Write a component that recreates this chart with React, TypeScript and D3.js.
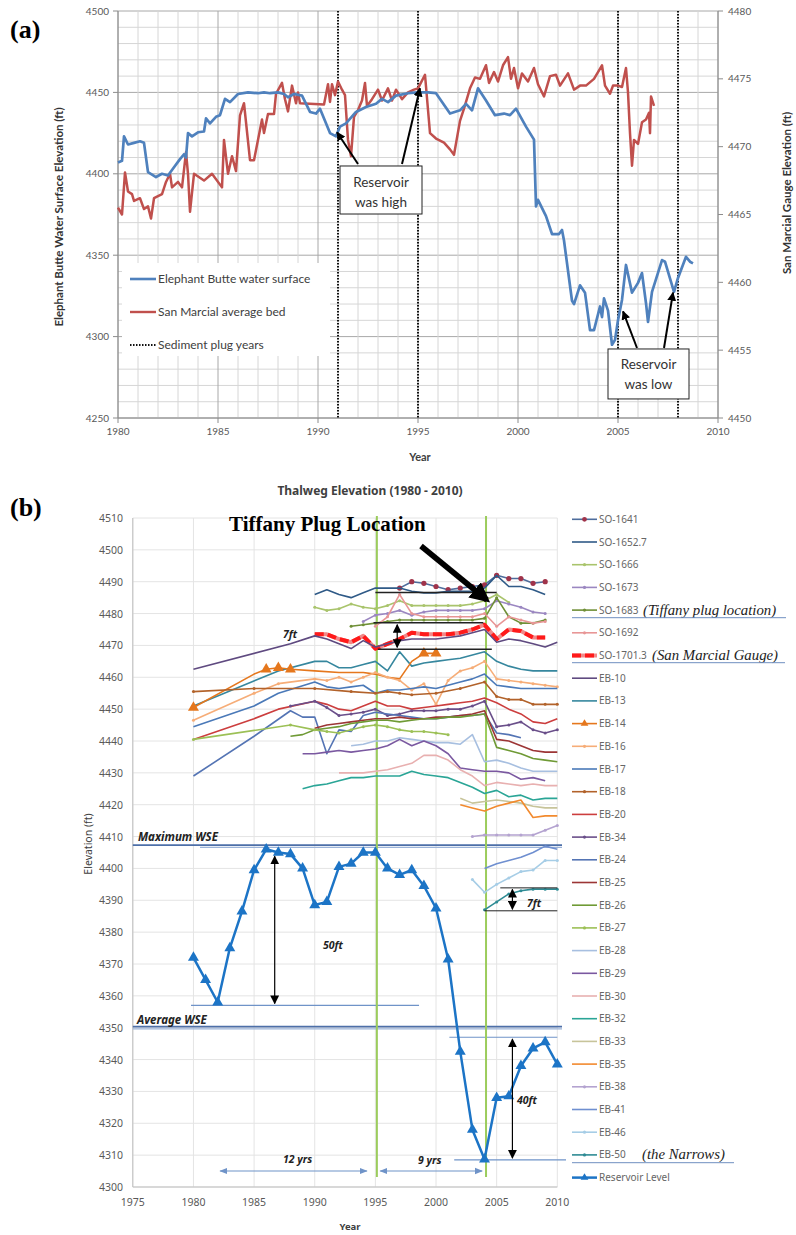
import React from 'react';
import * as d3 from 'd3';

type P = [number, number];

// ---------- Panel (a) data ----------
const elephantButte: P[] = [[1980.0,4407],[1980.2,4408],[1980.3,4423],[1980.5,4418],[1980.8,4419],[1981.1,4420],[1981.3,4419],[1981.5,4401],[1981.9,4398],[1982.2,4400],[1982.5,4399],[1982.8,4404],[1983.1,4409],[1983.3,4412],[1983.4,4410],[1983.5,4425],[1983.7,4423],[1984.0,4425.5],[1984.3,4426],[1984.4,4434],[1984.6,4431],[1984.9,4435],[1985.1,4436],[1985.35,4446],[1985.6,4444],[1986.0,4449],[1986.5,4450],[1987.0,4449.5],[1987.3,4450],[1987.6,4449.5],[1988.0,4450],[1988.3,4449],[1988.5,4447],[1988.8,4449],[1989.2,4448],[1989.6,4438],[1989.9,4437],[1990.1,4440],[1990.6,4425],[1990.9,4423],[1991.1,4429],[1991.4,4431],[1991.9,4438],[1992.4,4441],[1992.9,4443],[1993.2,4446],[1993.5,4444],[1993.9,4448],[1994.5,4449.5],[1995.0,4450],[1995.5,4450],[1995.9,4449.5],[1996.6,4437],[1997.1,4439],[1997.4,4443],[1997.7,4439],[1998.0,4452.5],[1998.4,4445],[1998.85,4436],[1999.3,4437],[1999.6,4436],[1999.9,4440],[2000.4,4429],[2000.8,4421],[2000.9,4380],[2001.0,4384],[2001.4,4374],[2001.7,4363],[2002.05,4363],[2002.2,4365.5],[2002.3,4359],[2002.7,4322],[2002.8,4320],[2003.1,4331.5],[2003.35,4327],[2003.6,4304],[2003.8,4304],[2004.1,4318.5],[2004.2,4312],[2004.3,4323.5],[2004.5,4316],[2004.7,4295],[2004.85,4298],[2005.0,4310],[2005.2,4322.5],[2005.4,4344],[2005.7,4327],[2006.0,4333],[2006.2,4339],[2006.4,4320.5],[2006.5,4309],[2006.7,4327.5],[2007.2,4347],[2007.35,4346],[2007.8,4327.5],[2008.0,4336],[2008.4,4349],[2008.6,4346],[2008.75,4345]];

const sanMarcial: P[] = [[1980.0,4465.5],[1980.2,4465.0],[1980.35,4468.1],[1980.5,4466.7],[1980.7,4466.5],[1980.8,4466],[1981.1,4466.2],[1981.3,4465.4],[1981.5,4465.6],[1981.65,4464.7],[1981.8,4466.2],[1982.2,4466.5],[1982.4,4467.4],[1982.6,4468],[1982.7,4467],[1983.0,4467.4],[1983.2,4467],[1983.4,4469.6],[1983.5,4468],[1983.6,4465.2],[1983.8,4468],[1984.3,4467.5],[1984.7,4468],[1985.2,4467],[1985.3,4470.5],[1985.5,4468],[1985.7,4469.3],[1985.9,4468.2],[1986.1,4472.3],[1986.3,4473.2],[1986.6,4469],[1986.8,4469],[1987.2,4472],[1987.3,4471],[1987.5,4472.4],[1987.8,4472.4],[1987.9,4473.9],[1988.2,4474.7],[1988.35,4473.5],[1988.5,4472.6],[1988.7,4474.5],[1988.9,4473.2],[1989.0,4474],[1989.1,4473.2],[1990.3,4473.1],[1990.5,4474.6],[1990.6,4473.3],[1990.7,4474.6],[1990.85,4473.8],[1991.0,4474.8],[1991.2,4474.2],[1991.35,4473.8],[1991.5,4470.5],[1991.65,4469.3],[1991.8,4472.2],[1992.0,4472.7],[1992.2,4473.4],[1992.35,4474.7],[1992.45,4473],[1992.7,4473.5],[1993.0,4474.2],[1993.2,4473.4],[1993.5,4474.3],[1993.7,4473.4],[1993.9,4474.2],[1994.2,4473.5],[1994.5,4474],[1994.8,4474.2],[1995.0,4474.3],[1995.35,4475.3],[1995.6,4471],[1995.9,4470.6],[1996.3,4470.3],[1996.6,4469.8],[1996.8,4469.4],[1997.1,4471.9],[1997.3,4472.8],[1997.6,4474.3],[1997.85,4475.1],[1998.1,4475],[1998.4,4476],[1998.55,4474.7],[1998.8,4475.5],[1999.0,4474.8],[1999.25,4476],[1999.5,4476.6],[1999.65,4475],[1999.8,4475.8],[2000.0,4474.3],[2000.2,4475.4],[2000.5,4474.8],[2000.8,4475.8],[2001.0,4474.6],[2001.3,4473.7],[2001.6,4475.2],[2001.9,4475.3],[2002.1,4474.5],[2002.5,4475.4],[2002.8,4474.2],[2003.1,4474.5],[2003.4,4474.5],[2003.8,4475],[2004.2,4476],[2004.35,4474.5],[2004.6,4473.9],[2004.75,4474.5],[2005.0,4474.5],[2005.2,4474.4],[2005.4,4475.8],[2005.5,4474],[2005.6,4471],[2005.7,4468.6],[2005.8,4470.5],[2006.0,4470.2],[2006.2,4471.8],[2006.4,4472],[2006.55,4472.5],[2006.6,4471],[2006.65,4473.7],[2006.8,4473]];

const plugYears = [1991, 1995, 2005, 2008];
const aLeftTicks = [4250, 4300, 4350, 4400, 4450, 4500];
const aRightTicks = [4450, 4455, 4460, 4465, 4470, 4475, 4480];
const aYearTicks = [1980, 1985, 1990, 1995, 2000, 2005, 2010];

// ---------- Panel (b) data ----------
const so1641: P[] = [[1997,4488],[1998,4490],[1999,4489.5],[2000,4488.5],[2001,4487.5],[2002,4488],[2003,4488.5],[2004,4489],[2005,4492],[2006,4491],[2007,4491],[2008,4489.5],[2009,4490]];
const so1652: P[] = [[1990,4486],[1991,4487.5],[1992,4486],[1993,4485],[1994,4486.5],[1995,4488],[1996,4488],[1997,4488],[1998,4487],[1999,4486.5],[2000,4486.5],[2001,4487],[2002,4487],[2003,4487],[2004,4488],[2005,4492],[2006,4488.5],[2007,4488.5],[2008,4487.5],[2009,4486]];
const so1666: P[] = [[1990,4482],[1991,4481],[1992,4481.5],[1993,4483],[1994,4482],[1995,4481.5],[1996,4482.5],[1997,4484],[1998,4482.5],[1999,4482.5],[2000,4482.5],[2001,4482.5],[2002,4482.5],[2003,4483],[2004,4484],[2005,4486],[2006,4483.5]];
const so1673: P[] = [[1994,4477.5],[1995,4479.5],[1996,4480],[1997,4481],[1998,4479.5],[1999,4480.5],[2000,4481],[2001,4481],[2002,4481],[2003,4481],[2004,4481.5],[2005,4484],[2006,4483],[2007,4482],[2008,4480.5],[2009,4480]];
const so1683: P[] = [[1993,4476],[1994,4476.5],[1995,4477],[1996,4477.5],[1997,4478],[1998,4478],[1999,4478],[2000,4478],[2001,4478],[2002,4478],[2003,4478],[2004,4478.5],[2005,4485],[2006,4479],[2007,4477],[2008,4477],[2009,4478]];
const so1692: P[] = [[1995,4476],[1996,4479],[1997,4486],[1998,4480],[1999,4479],[2000,4479],[2001,4479],[2002,4479],[2003,4479],[2004,4480],[2005,4476],[2006,4479],[2007,4478],[2008,4477],[2009,4477.5]];
const so1701: P[] = [[1990,4473.5],[1991,4473.5],[1992,4472],[1993,4471],[1994,4473],[1995,4469],[1996,4470.5],[1997,4472],[1998,4474],[1999,4473.5],[2000,4473.5],[2001,4473.5],[2002,4474],[2003,4475],[2004,4476.5],[2005,4472],[2006,4475],[2007,4474.5],[2008,4472.5],[2009,4472.5]];
const eb10: P[] = [[1980,4462.5],[1988,4470.5],[1990,4473],[1991,4472],[1992,4470.5],[1993,4469],[1994,4471.5],[1995,4469.5],[1996,4470.5],[1997,4471.5],[1998,4472],[1999,4472],[2000,4472],[2001,4472.5],[2002,4473],[2003,4474],[2004,4475],[2005,4471],[2006,4472],[2007,4471.5],[2008,4470.5],[2009,4469.5],[2010,4471]];
const eb13: P[] = [[1980,4451],[1987,4462],[1990,4465],[1991,4465],[1992,4463],[1993,4463],[1994,4464],[1995,4465],[1996,4462],[1997,4468],[1998,4463.5],[1999,4464.5],[2000,4465],[2001,4465.5],[2002,4466],[2003,4467],[2004,4468],[2005,4465],[2006,4463.5],[2007,4462.5],[2008,4462],[2009,4462],[2010,4462]];
const eb14: P[] = [[1980,4450.5],[1985,4461],[1986,4462.5],[1987,4463],[1988,4462.5],[1990,4462],[1992,4461.5],[1994,4461.5],[1995,4461],[1996,4460],[1997,4459.5],[1998,4465],[1999,4467.5],[2000,4467.5]];
const eb14Marked = [1980, 1986, 1987, 1988, 1999, 2000];
const eb16: P[] = [[1980,4446.5],[1985,4455],[1987,4458],[1990,4459.5],[1991,4459],[1992,4460],[1993,4458.5],[1994,4460],[1995,4461.5],[1996,4460],[1997,4459],[1998,4456],[1999,4458],[2000,4451.5],[2001,4459],[2002,4462],[2003,4463],[2004,4465],[2005,4459.5],[2006,4459],[2007,4458.5],[2008,4458],[2009,4457.5],[2010,4457]];
const eb17: P[] = [[1980,4444.5],[1985,4451],[1987,4455],[1990,4458.5],[1991,4457],[1992,4456.5],[1993,4457],[1994,4457.5],[1995,4455],[1996,4456],[1997,4456],[1998,4456.5],[1999,4457],[2000,4456.5],[2001,4457.5],[2002,4458.5],[2003,4459.5],[2004,4461],[2005,4457.5],[2006,4457],[2007,4456.5],[2008,4456.5],[2009,4456.5],[2010,4456.5]];
const eb18: P[] = [[1980,4455.5],[1985,4456.5],[1990,4456.5],[1993,4455.5],[1995,4455],[1996,4455.5],[1997,4455],[1998,4454.5],[2000,4455],[2002,4456.5],[2004,4458.5],[2005,4454],[2006,4453],[2007,4453],[2008,4451.5],[2009,4451.5],[2010,4451.5]];
const eb20: P[] = [[1980,4440.5],[1985,4447],[1987,4450],[1990,4452.5],[1991,4451.5],[1992,4450],[1993,4449.5],[1994,4451],[1995,4452.5],[1996,4451],[1997,4451],[1998,4450],[1999,4450.5],[2000,4451],[2001,4451.5],[2002,4452],[2003,4452.5],[2004,4453.5],[2005,4452],[2006,4450],[2007,4448.5],[2008,4446],[2009,4445.5],[2010,4447]];
const eb34: P[] = [[1988,4451],[1990,4452.5],[1991,4450.5],[1992,4448],[1993,4448.5],[1994,4449],[1995,4450],[1996,4448],[1997,4448.5],[1998,4449.5],[1999,4449.5],[2000,4449.5],[2001,4450],[2002,4450],[2003,4451],[2004,4452.5],[2005,4444.5],[2006,4445],[2007,4446],[2008,4443.5],[2009,4442.5],[2010,4443.5]];
const eb24: P[] = [[1980,4429],[1985,4441.5],[1988,4449.5],[1989,4447.5],[1990,4447.5],[1991,4436],[1992,4443.5],[1993,4443],[1994,4448],[1995,4449],[1996,4448.5],[1997,4448],[1998,4447.5],[1999,4447],[2000,4447],[2001,4447.5],[2002,4448],[2003,4448],[2004,4448.5],[2005,4442.5],[2006,4442],[2007,4441]];
const eb25: P[] = [[1990,4444],[1991,4445],[1992,4445.5],[1993,4446],[1994,4446.5],[1995,4447],[1996,4447],[1997,4447.5],[1998,4447],[1999,4447],[2000,4447.5],[2001,4447.5],[2002,4448],[2003,4448.5],[2004,4449.5],[2005,4440.5],[2006,4440],[2007,4438.5],[2008,4437],[2009,4436.5],[2010,4436.5]];
const eb26: P[] = [[1988,4441.5],[1989,4442],[1990,4443.5],[1991,4444],[1992,4444.5],[1993,4445.5],[1994,4446],[1995,4446.5],[1996,4446.5],[1997,4446],[1998,4446.5],[1999,4447],[2000,4447],[2001,4447.5],[2002,4447.5],[2003,4448],[2004,4448.5],[2005,4438],[2006,4437],[2007,4436],[2008,4434.5],[2009,4434],[2010,4433.5]];
const eb27: P[] = [[1980,4440.5],[1988,4445],[1990,4443.5],[1991,4443],[1992,4442.5],[1993,4443.5],[1994,4444.5],[1995,4445],[1996,4444.5],[1997,4443.5],[1998,4443],[1999,4443],[2000,4442.5],[2001,4442]];
const eb28: P[] = [[1993,4438.5],[1994,4439],[1995,4440],[1996,4440],[1997,4441],[1998,4440.5],[1999,4440],[2000,4439.5],[2001,4439.5],[2002,4439],[2003,4442],[2004,4433.5],[2005,4434],[2006,4433],[2007,4431.5],[2008,4430.5],[2009,4430.5],[2010,4430.5]];
const eb29: P[] = [[1989,4436],[1990,4436],[1991,4436.5],[1992,4437],[1993,4436.5],[1994,4437],[1995,4437.5],[1996,4438.5],[1997,4440.5],[1998,4438.5],[1999,4440],[2000,4438.5],[2001,4436],[2002,4431.5],[2003,4431],[2004,4430.5],[2005,4430.5],[2006,4430],[2007,4428],[2008,4428.5],[2009,4427.5]];
const eb30: P[] = [[1992,4430],[1993,4430],[1994,4430],[1995,4430.5],[1996,4431],[1997,4432],[1998,4433],[1999,4435.5],[2000,4435.5],[2001,4434],[2002,4431],[2003,4429],[2004,4426],[2005,4427],[2006,4426.5],[2007,4426],[2008,4426.5],[2009,4426],[2010,4426]];
const eb32: P[] = [[1989,4425],[1990,4426],[1991,4426.5],[1992,4427.5],[1993,4428.5],[1994,4428.5],[1995,4429],[1996,4429],[1997,4429],[1998,4430.5],[1999,4429.5],[2000,4429],[2001,4428.5],[2002,4427],[2003,4425.5],[2004,4423.5],[2005,4424.5],[2006,4422.5],[2007,4423],[2008,4421.5],[2009,4422],[2010,4422]];
const eb33: P[] = [[2002,4422],[2003,4420.5],[2004,4421],[2005,4421.5],[2006,4421],[2007,4420.5],[2008,4419.5],[2009,4419],[2010,4419]];
const eb35: P[] = [[2002,4420],[2003,4419],[2004,4418],[2005,4419.5],[2006,4420.5],[2007,4421.5],[2008,4416],[2009,4416.5],[2010,4416.5]];
const eb38: P[] = [[2003,4410],[2004,4410.5],[2005,4410.5],[2006,4410.5],[2007,4410.5],[2008,4410.5],[2009,4412],[2010,4413.5]];
const eb41: P[] = [[2004,4400],[2005,4401.5],[2006,4402.5],[2007,4403.5],[2008,4405],[2009,4407],[2010,4406]];
const eb46: P[] = [[2003,4396.5],[2004,4392.5],[2005,4395],[2006,4397],[2007,4399],[2008,4399.5],[2009,4402.5],[2010,4402.5]];
const eb50: P[] = [[2004,4387],[2005,4389.5],[2006,4392],[2007,4393],[2008,4393.5],[2009,4393.5],[2010,4393.5]];
const reservoirLevel: P[] = [[1980,4372],[1981,4365],[1982,4358],[1983,4375],[1984,4386.5],[1985,4399.5],[1986,4406],[1987,4405],[1988,4404.5],[1989,4400],[1990,4388.5],[1991,4389.5],[1992,4400.5],[1993,4401.5],[1994,4405],[1995,4405],[1996,4400],[1997,4398],[1998,4399.5],[1999,4394.5],[2000,4387.5],[2001,4371.5],[2002,4342.5],[2003,4318],[2004,4308.7],[2005,4328],[2006,4328.5],[2007,4338],[2008,4343.5],[2009,4345.5],[2010,4338.5]];

const bYTicks = d3.range(4300, 4511, 10);
const bXTicks = [1975, 1980, 1985, 1990, 1995, 2000, 2005, 2010];
const plugLinesB = [1995, 2004];
const maxWSE = 4407;
const avgWSE = 4350;

type S = { name: string; data: P[]; color: string; w?: number; mk?: string; mkColor?: string; note?: string; noteX?: number };
const seriesB: S[] = [
  { name: 'SO-1641', data: so1641, color: '#4e6d9c', mk: 'dot', mkColor: '#a0334a' },
  { name: 'SO-1652.7', data: so1652, color: '#2f5a87' },
  { name: 'SO-1666', data: so1666, color: '#a9c46c', mk: 'small' },
  { name: 'SO-1673', data: so1673, color: '#9b87c1', mk: 'small' },
  { name: 'SO-1683', data: so1683, color: '#6f8f36', mk: 'small', note: '(Tiffany plug location)', noteX: 643 },
  { name: 'SO-1692', data: so1692, color: '#e89696', mk: 'small' },
  { name: 'SO-1701.3', data: so1701, color: '#ff1a1a', w: 4, mk: 'dash', note: '(San Marcial Gauge)', noteX: 652 },
  { name: 'EB-10', data: eb10, color: '#5f4a80' },
  { name: 'EB-13', data: eb13, color: '#36879e' },
  { name: 'EB-14', data: eb14, color: '#e5771d', mk: 'tri' },
  { name: 'EB-16', data: eb16, color: '#f6ad78', mk: 'small' },
  { name: 'EB-17', data: eb17, color: '#4a79b8' },
  { name: 'EB-18', data: eb18, color: '#b2622a', mk: 'small' },
  { name: 'EB-20', data: eb20, color: '#cc3e3e' },
  { name: 'EB-34', data: eb34, color: '#6a4f8a', mk: 'small' },
  { name: 'EB-24', data: eb24, color: '#5474b4' },
  { name: 'EB-25', data: eb25, color: '#9c3535' },
  { name: 'EB-26', data: eb26, color: '#6f9a35' },
  { name: 'EB-27', data: eb27, color: '#9cc056', mk: 'small' },
  { name: 'EB-28', data: eb28, color: '#a7bfe0' },
  { name: 'EB-29', data: eb29, color: '#7a58a0' },
  { name: 'EB-30', data: eb30, color: '#e8b0b0' },
  { name: 'EB-32', data: eb32, color: '#2aa596' },
  { name: 'EB-33', data: eb33, color: '#c7c49a' },
  { name: 'EB-35', data: eb35, color: '#f28a2e' },
  { name: 'EB-38', data: eb38, color: '#b4a3d0', mk: 'small' },
  { name: 'EB-41', data: eb41, color: '#6f8fd0' },
  { name: 'EB-46', data: eb46, color: '#a6cde6', mk: 'small' },
  { name: 'EB-50', data: eb50, color: '#2e8b94', mk: 'small', note: '(the Narrows)', noteX: 642 },
  { name: 'Reservoir Level', data: reservoirLevel, color: '#1c74c6', w: 2.5, mk: 'bigtri' },
];

// ---------- scales ----------
const xA = d3.scaleLinear().domain([1980, 2010]).range([118, 718]);
const yAL = d3.scaleLinear().domain([4250, 4500]).range([418, 11]);
const yAR = d3.scaleLinear().domain([4450, 4480]).range([418, 11]);
const xB = d3.scaleLinear().domain([1975, 2010]).range([132.8, 557.3]);
const yB = d3.scaleLinear().domain([4300, 4510]).range([1187, 518]);

const lineAL = d3.line<P>().x(d => xA(d[0])).y(d => yAL(d[1]));
const lineAR = d3.line<P>().x(d => xA(d[0])).y(d => yAR(d[1]));
const lineB = d3.line<P>().x(d => xB(d[0])).y(d => yB(d[1]));
const triPath = d3.symbol().type(d3.symbolTriangle).size(52)()!;
const triSmall = d3.symbol().type(d3.symbolTriangle).size(26)()!;

const calibri = 'Lato, "Open Sans", sans-serif';
const malgun = '"Noto Sans", "DejaVu Sans", sans-serif';
const times = '"Liberation Serif", "DejaVu Serif", serif';

export default function App() {
  const legRow0 = 519.3, legStep = 22.7;
  return (
    <svg width={796} height={1235} style={{ position: 'absolute', left: 0, top: 0, background: '#fff' }}
      xmlns="http://www.w3.org/2000/svg">
      <defs>
        <marker id="ah" viewBox="0 0 10 10" refX="9" refY="5" markerWidth="9" markerHeight="9" markerUnits="userSpaceOnUse" orient="auto-start-reverse">
          <path d="M0,0 L10,5 L0,10 z" fill="#000" />
        </marker>
        <marker id="ahBig" viewBox="0 0 10 10" refX="8" refY="5" markerWidth="20" markerHeight="20" markerUnits="userSpaceOnUse" orient="auto">
          <path d="M0,0 L10,5 L0,10 z" fill="#000" />
        </marker>
        <marker id="ahBlue" viewBox="0 0 10 10" refX="9" refY="5" markerWidth="8" markerHeight="8" markerUnits="userSpaceOnUse" orient="auto-start-reverse">
          <path d="M0,1 L10,5 L0,9 z" fill="#6f93c8" />
        </marker>
      </defs>

      {/* ================= Panel (a) ================= */}
      <text x={10} y={38} fontFamily={times} fontWeight="bold" fontSize={26} fill="#000">(a)</text>
      <g>
        {d3.range(4250, 4501, 10).map(v => (
          <line key={'ha' + v} x1={118} x2={718} y1={yAL(v)} y2={yAL(v)} stroke={v % 50 === 0 ? '#a8a8a8' : '#d6d6d6'} strokeWidth={1} />
        ))}
        {d3.range(1980, 2011, 1).map(v => (
          <line key={'va' + v} x1={xA(v)} x2={xA(v)} y1={11} y2={418} stroke={v % 5 === 0 ? '#a8a8a8' : '#d6d6d6'} strokeWidth={1} />
        ))}
        <line x1={118} x2={118} y1={11} y2={418} stroke="#8c8c8c" />
        <line x1={718} x2={718} y1={11} y2={418} stroke="#8c8c8c" />
        <line x1={118} x2={718} y1={418} y2={418} stroke="#8c8c8c" />
        {aLeftTicks.map(v => (
          <g key={'lt' + v}>
            <line x1={113} x2={118} y1={yAL(v)} y2={yAL(v)} stroke="#8c8c8c" />
            <text x={109} y={yAL(v) + 3.5} textAnchor="end" fontFamily={calibri} fontSize={10} fill="#595959">{v}</text>
          </g>
        ))}
        {aRightTicks.map(v => (
          <g key={'rt' + v}>
            <line x1={718} x2={723} y1={yAR(v)} y2={yAR(v)} stroke="#8c8c8c" />
            <text x={728} y={yAR(v) + 3.5} textAnchor="start" fontFamily={calibri} fontSize={10} fill="#595959">{v}</text>
          </g>
        ))}
        {aYearTicks.map(v => (
          <g key={'xt' + v}>
            <line x1={xA(v)} x2={xA(v)} y1={418} y2={423} stroke="#8c8c8c" />
            <text x={xA(v)} y={435} textAnchor="middle" fontFamily={calibri} fontSize={10} fill="#595959">{v}</text>
          </g>
        ))}
        <text x={420} y={461} textAnchor="middle" fontFamily={calibri} fontWeight="bold" fontSize={11} fill="#404040">Year</text>
        <text transform="translate(63,217) rotate(-90)" textAnchor="middle" fontFamily={calibri} fontWeight="bold" fontSize={11.5} fill="#333">Elephant Butte Water Surface Elevation (ft)</text>
        <text transform="translate(791,193) rotate(-90)" textAnchor="middle" fontFamily={calibri} fontWeight="bold" fontSize={11.5} fill="#333">San Marcial Gauge Elevation (ft)</text>

        {plugYears.map(v => (
          <line key={'pl' + v} x1={xA(v)} x2={xA(v)} y1={11} y2={418} stroke="#111" strokeWidth={2} strokeDasharray="1.5,1.5" />
        ))}

        <path d={lineAR(sanMarcial)!} fill="none" stroke="#c0504d" strokeWidth={2.5} strokeLinejoin="round" />
        <path d={lineAL(elephantButte)!} fill="none" stroke="#4f81bd" strokeWidth={2.7} strokeLinejoin="round" />

        {/* legend */}
        <rect x={122} y={263} width={208} height={93} fill="#fff" />
        <line x1={130} x2={156} y1={279} y2={279} stroke="#4f81bd" strokeWidth={2.6} />
        <text x={158} y={283} fontFamily={calibri} fontSize={12} fill="#404040">Elephant Butte water surface</text>
        <line x1={130} x2={156} y1={312} y2={312} stroke="#c0504d" strokeWidth={2.4} />
        <text x={158} y={316} fontFamily={calibri} fontSize={12} fill="#404040">San Marcial average bed</text>
        <line x1={130} x2={156} y1={345} y2={345} stroke="#111" strokeWidth={2} strokeDasharray="1.5,1.5" />
        <text x={158} y={349} fontFamily={calibri} fontSize={12} fill="#404040">Sediment plug years</text>

        {/* annotations */}
        <line x1={xA(1992)} y1={yAL(4406)} x2={xA(1990.95)} y2={yAL(4425.5)} stroke="#000" strokeWidth={2} markerEnd="url(#ah)" />
        <line x1={xA(1994.2)} y1={yAL(4406)} x2={xA(1995.1)} y2={yAL(4452.5)} stroke="#000" strokeWidth={2} markerEnd="url(#ah)" />
        <rect x={xA(1991.1)} y={yAL(4404.8)} width={xA(1995.2) - xA(1991.1)} height={yAL(4375.3) - yAL(4404.8)} fill="#fff" stroke="#222" strokeWidth={1} />
        <text x={(xA(1991.1) + xA(1995.2)) / 2} y={yAL(4404.8) + 21} textAnchor="middle" fontFamily={calibri} fontSize={13.5} fill="#333">Reservoir</text>
        <text x={(xA(1991.1) + xA(1995.2)) / 2} y={yAL(4404.8) + 41} textAnchor="middle" fontFamily={calibri} fontSize={13.5} fill="#333">was high</text>

        <line x1={xA(2005.95)} y1={yAL(4293)} x2={xA(2005.25)} y2={yAL(4315.5)} stroke="#000" strokeWidth={2} markerEnd="url(#ah)" />
        <line x1={xA(2007.3)} y1={yAL(4293)} x2={xA(2007.75)} y2={yAL(4327)} stroke="#000" strokeWidth={2} markerEnd="url(#ah)" />
        <rect x={xA(2004.5)} y={yAL(4292.4)} width={xA(2008.55) - xA(2004.5)} height={yAL(4261.7) - yAL(4292.4)} fill="#fff" stroke="#222" strokeWidth={1} />
        <text x={(xA(2004.5) + xA(2008.55)) / 2} y={yAL(4292.4) + 20} textAnchor="middle" fontFamily={calibri} fontSize={13.5} fill="#333">Reservoir</text>
        <text x={(xA(2004.5) + xA(2008.55)) / 2} y={yAL(4292.4) + 40} textAnchor="middle" fontFamily={calibri} fontSize={13.5} fill="#333">was low</text>
      </g>

      {/* ================= Panel (b) ================= */}
      <text x={10} y={516} fontFamily={times} fontWeight="bold" fontSize={26} fill="#000">(b)</text>
      <text x={370} y={495} textAnchor="middle" fontFamily={malgun} fontWeight="bold" fontSize={12} fill="#404040">Thalweg Elevation (1980 - 2010)</text>
      <g>
        {bYTicks.map(v => (
          <line key={'hb' + v} x1={132.8} x2={557.3} y1={yB(v)} y2={yB(v)} stroke="#e4e4e4" strokeWidth={1} />
        ))}
        {bXTicks.map(v => (
          <line key={'vb' + v} x1={xB(v)} x2={xB(v)} y1={518} y2={1187} stroke="#e4e4e4" strokeWidth={1} />
        ))}
        <line x1={132.8} x2={132.8} y1={518} y2={1187} stroke="#bfbfbf" />
        <line x1={132.8} x2={557.3} y1={1187} y2={1187} stroke="#bfbfbf" />
        {bYTicks.map(v => (
          <text key={'yl' + v} x={123} y={yB(v) + 4} textAnchor="end" fontFamily={malgun} fontSize={10.5} fill="#595959">{v}</text>
        ))}
        {bXTicks.map(v => (
          <text key={'xl' + v} x={xB(v)} y={1206} textAnchor="middle" fontFamily={malgun} fontSize={10.5} fill="#595959">{v}</text>
        ))}
        <text x={350} y={1230} textAnchor="middle" fontFamily={malgun} fontWeight="bold" fontSize={9.5} fill="#404040">Year</text>
        <text transform="translate(92,844) rotate(-90)" textAnchor="middle" fontFamily={malgun} fontSize={10.5} fill="#404040">Elevation (ft)</text>

        {/* WSE reference lines */}
        <line x1={132.8} x2={562} y1={yB(maxWSE) - 1} y2={yB(maxWSE) - 1} stroke="#4d6fa8" strokeWidth={1.8} />
        <line x1={200} x2={562} y1={yB(maxWSE) + 1.2} y2={yB(maxWSE) + 1.2} stroke="#9bb3d8" strokeWidth={1.2} />
        <line x1={132.8} x2={562} y1={yB(avgWSE) - 1} y2={yB(avgWSE) - 1} stroke="#4d6fa8" strokeWidth={1.8} />
        <line x1={132.8} x2={562} y1={yB(avgWSE) + 1.2} y2={yB(avgWSE) + 1.2} stroke="#9bb3d8" strokeWidth={1.2} />
        <text x={138} y={841} fontFamily={malgun} fontStyle="italic" fontWeight="bold" fontSize={11.5} fill="#222">Maximum WSE</text>
        <text x={137} y={1024} fontFamily={malgun} fontStyle="italic" fontWeight="bold" fontSize={11.5} fill="#222">Average WSE</text>

        <line x1={xB(1979.8)} x2={xB(1998.6)} y1={yB(4357)} y2={yB(4357)} stroke="#6f93c8" strokeWidth={1.2} />
        <line x1={xB(2001.1)} x2={557.3} y1={yB(4347)} y2={yB(4347)} stroke="#6f93c8" strokeWidth={1.2} />
        <line x1={xB(2001.5)} x2={566} y1={yB(4308.5)} y2={yB(4308.5)} stroke="#6f93c8" strokeWidth={1.2} />

        {/* green plug lines */}
        {plugLinesB.map(v => (
          <line key={'gp' + v} x1={xB(v) + 1.5} x2={xB(v) + 1.5} y1={516} y2={1177} stroke="#9ccc5c" strokeWidth={2} />
        ))}

        {/* series */}
        {seriesB.map(s => {
          if (s.mk === 'dash') {
            return (
              <g key={s.name}>
                <path d={lineB(s.data)!} fill="none" stroke="#f08a8a" strokeWidth={s.w} strokeLinejoin="round" />
                <path d={lineB(s.data)!} fill="none" stroke={s.color} strokeWidth={s.w} strokeDasharray="9,4" strokeLinejoin="round" />
              </g>
            );
          }
          return (
            <g key={s.name}>
              <path d={lineB(s.data)!} fill="none" stroke={s.color} strokeWidth={s.w ?? 1.6} strokeLinejoin="round" />
              {s.mk === 'dot' && s.data.map(d => (
                <circle key={d[0]} cx={xB(d[0])} cy={yB(d[1])} r={2.6} fill={s.mkColor} />
              ))}
              {s.mk === 'small' && s.data.map(d => (
                <circle key={d[0]} cx={xB(d[0])} cy={yB(d[1])} r={1.5} fill={s.color} />
              ))}
              {s.mk === 'tri' && s.data.filter(d => eb14Marked.includes(d[0])).map(d => (
                <path key={d[0]} d={triPath} transform={`translate(${xB(d[0])},${yB(d[1])})`} fill={s.color} />
              ))}
              {s.mk === 'bigtri' && s.data.map(d => (
                <path key={d[0]} d={triPath} transform={`translate(${xB(d[0])},${yB(d[1])})`} fill={s.color} />
              ))}
            </g>
          );
        })}

        {/* black reference lines near Tiffany plug */}
        <line x1={xB(1995)} x2={xB(2005)} y1={yB(4486.6)} y2={yB(4486.6)} stroke="#222" strokeWidth={1.5} />
        <line x1={xB(1994.85)} x2={xB(2003.9)} y1={yB(4477.1)} y2={yB(4477.1)} stroke="#222" strokeWidth={1.5} />
        <line x1={xB(1995.2)} x2={xB(2004.6)} y1={yB(4468.8)} y2={yB(4468.8)} stroke="#222" strokeWidth={1.5} />
        <line x1={xB(1996.8)} x2={xB(1996.8)} y1={yB(4476.5)} y2={yB(4469.4)} stroke="#000" strokeWidth={1.2} markerStart="url(#ah)" markerEnd="url(#ah)" />
        <text x={283} y={638} fontFamily={malgun} fontStyle="italic" fontWeight="bold" fontSize={10.5} fill="#222">7ft</text>

        {/* 50 ft */}
        <line x1={xB(1986.7)} x2={xB(1986.7)} y1={yB(4403.8)} y2={yB(4357.6)} stroke="#000" strokeWidth={1.2} markerStart="url(#ah)" markerEnd="url(#ah)" />
        <text x={323} y={949} fontFamily={malgun} fontStyle="italic" fontWeight="bold" fontSize={10.5} fill="#222">50ft</text>
        {/* 40 ft */}
        <line x1={xB(2006.3)} x2={xB(2006.3)} y1={yB(4346.4)} y2={yB(4309.1)} stroke="#000" strokeWidth={1.2} markerStart="url(#ah)" markerEnd="url(#ah)" />
        <text x={517} y={1104} fontFamily={malgun} fontStyle="italic" fontWeight="bold" fontSize={10.5} fill="#222">40ft</text>
        {/* 7 ft lower */}
        <line x1={xB(2005.3)} x2={557.3} y1={yB(4393.9)} y2={yB(4393.9)} stroke="#222" strokeWidth={1} />
        <line x1={xB(2004)} x2={557.3} y1={yB(4386.7)} y2={yB(4386.7)} stroke="#222" strokeWidth={1} />
        <line x1={xB(2006.3)} x2={xB(2006.3)} y1={yB(4393.4)} y2={yB(4387.2)} stroke="#000" strokeWidth={1.2} markerStart="url(#ah)" markerEnd="url(#ah)" />
        <text x={527} y={907} fontFamily={malgun} fontStyle="italic" fontWeight="bold" fontSize={10.5} fill="#222">7ft</text>

        {/* year spans */}
        <line x1={xB(1982.2)} x2={xB(1994.3)} y1={1171} y2={1171} stroke="#6f93c8" strokeWidth={1.2} markerStart="url(#ahBlue)" markerEnd="url(#ahBlue)" />
        <line x1={xB(1995.4)} x2={xB(2003.8)} y1={1171} y2={1171} stroke="#6f93c8" strokeWidth={1.2} markerStart="url(#ahBlue)" markerEnd="url(#ahBlue)" />
        <text x={283} y={1163} fontFamily={malgun} fontStyle="italic" fontWeight="bold" fontSize={10.5} fill="#222">12 yrs</text>
        <text x={418} y={1164} fontFamily={malgun} fontStyle="italic" fontWeight="bold" fontSize={10.5} fill="#222">9 yrs</text>

        {/* Tiffany plug label and arrow */}
        <text x={229} y={531} fontFamily={times} fontWeight="bold" fontSize={21} fill="#000">Tiffany Plug Location</text>
        <line x1={421} y1={546} x2={487} y2={600} stroke="#000" strokeWidth={5.5} markerEnd="url(#ahBig)" />

        {/* legend */}
        {seriesB.map((s, i) => {
          const y = legRow0 + i * legStep;
          return (
            <g key={'lg' + s.name}>
              {s.mk === 'dash' ? (
                <g>
                  <line x1={572} x2={597} y1={y} y2={y} stroke="#f08a8a" strokeWidth={4} />
                  <line x1={572} x2={597} y1={y} y2={y} stroke={s.color} strokeWidth={4} strokeDasharray="9,4" />
                </g>
              ) : (
                <line x1={572} x2={597} y1={y} y2={y} stroke={s.color} strokeWidth={s.w ?? 1.6} />
              )}
              {s.mk === 'dot' && <circle cx={584.5} cy={y} r={2.4} fill={s.mkColor} />}
              {s.mk === 'small' && <circle cx={584.5} cy={y} r={1.6} fill={s.color} />}
              {s.mk === 'tri' && <path d={triSmall} transform={`translate(584.5,${y})`} fill={s.color} />}
              {s.mk === 'bigtri' && <path d={triSmall} transform={`translate(584.5,${y})`} fill={s.color} />}
              <text x={599} y={y + 3.5} fontFamily={malgun} fontSize={10} fill="#666">{s.name}</text>
              {s.note && (
                <text x={s.noteX} y={y + 4.5} fontFamily={times} fontStyle="italic" fontSize={14.8} fill="#222">{s.note}</text>
              )}
            </g>
          );
        })}
        <line x1={572} x2={786} y1={617.7} y2={617.7} stroke="#6f8fc0" strokeWidth={1} />
        <line x1={572} x2={785} y1={662.7} y2={662.7} stroke="#6f8fc0" strokeWidth={1} />
        <line x1={572} x2={734} y1={1162.7} y2={1162.7} stroke="#6f8fc0" strokeWidth={1} />
      </g>
    </svg>
  );
}
